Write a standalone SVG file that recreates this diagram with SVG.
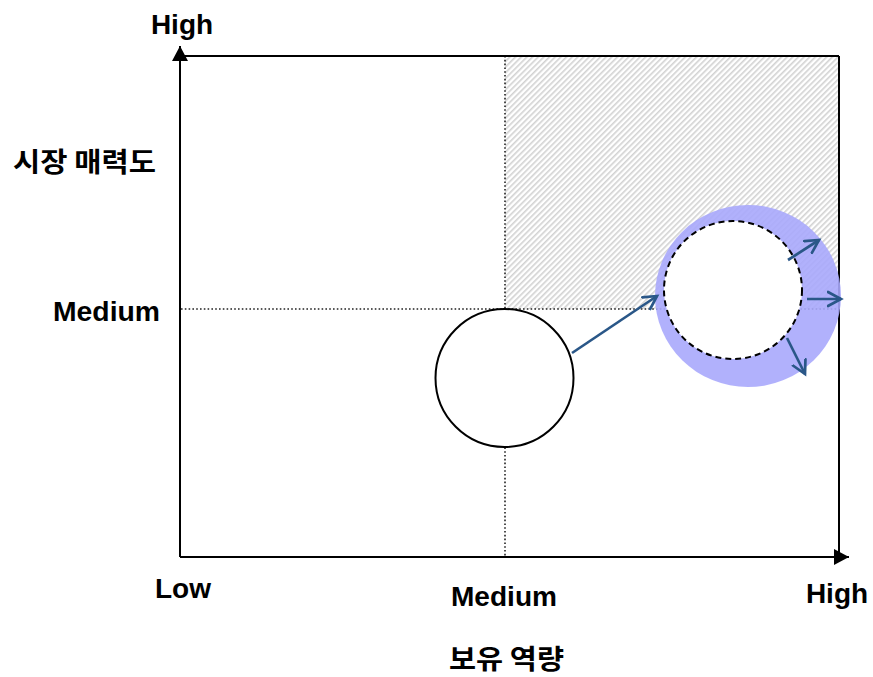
<svg xmlns="http://www.w3.org/2000/svg" width="873" height="677" viewBox="0 0 873 677">
<style>
.lbl{font-family:"Liberation Sans",Arial,sans-serif;font-weight:bold;font-size:28px;fill:#000}
.kr{font-family:"Noto Sans CJK KR","Liberation Sans",sans-serif;font-weight:bold;font-size:27px;fill:#000}
.axis{stroke:#000;stroke-width:2;fill:none}
.dot{stroke:#222;stroke-width:1.6;stroke-dasharray:1.6 2.2;fill:none}
.mv{stroke:#2a5788;stroke-width:2.7;fill:none}
</style>
<defs>
<pattern id="hatch" patternUnits="userSpaceOnUse" width="4" height="4" patternTransform="rotate(45)">
<rect width="4" height="4" fill="#fff"/>
<rect x="0" y="0" width="1.6" height="4" fill="#d2d2d2"/>
</pattern>
<marker id="solid" markerWidth="16" markerHeight="18" refX="15" refY="8" orient="auto" markerUnits="userSpaceOnUse">
<path d="M0,0 L15,8 L0,16 Z" fill="#000"/>
</marker>
<marker id="open" markerWidth="18" markerHeight="18" refX="14" refY="9" orient="auto" markerUnits="userSpaceOnUse">
<path d="M1,2 L14,9 L1,16" fill="none" stroke="#2a5788" stroke-width="2.7" stroke-linecap="round"/>
</marker>
</defs>
<g id="quadrant">
<rect x="505" y="56" width="334" height="253" fill="url(#hatch)"/>
</g>
<g id="grid">
<line class="dot" x1="505" y1="56" x2="505" y2="557"/>
<line class="dot" x1="181" y1="309" x2="839" y2="309"/>
</g>
<g id="frame">
<line class="axis" x1="180" y1="56" x2="839" y2="56"/>
<line class="axis" x1="839" y1="56" x2="839" y2="557"/>
<line class="axis" x1="180" y1="557" x2="180" y2="46" marker-end="url(#solid)"/>
<line class="axis" x1="180" y1="557" x2="849" y2="557" marker-end="url(#solid)"/>
</g>
<g id="target">
<ellipse cx="748" cy="296" rx="93" ry="91" fill="#a8a8fc" fill-opacity="0.9"/>
<circle cx="733" cy="290" r="69" fill="#fff" stroke="#000" stroke-width="2" stroke-dasharray="6 4"/>
</g>
<g id="current">
<circle cx="504.5" cy="378" r="69" fill="#fff" stroke="#000" stroke-width="2"/>
</g>
<g id="connectors">
<line class="mv" x1="572" y1="353" x2="657" y2="296" marker-end="url(#open)"/>
<line class="mv" x1="788" y1="260" x2="819" y2="240" marker-end="url(#open)"/>
<line class="mv" x1="807" y1="299" x2="841" y2="299" marker-end="url(#open)"/>
<line class="mv" x1="787" y1="338" x2="805" y2="374" marker-end="url(#open)"/>
</g>
<g id="labels">
<text class="lbl" x="182" y="34" text-anchor="middle">High</text>
<text class="kr" x="13" y="172" textLength="143" lengthAdjust="spacingAndGlyphs">시장 매력도</text>
<text class="lbl" x="160" y="321" text-anchor="end" textLength="107" lengthAdjust="spacingAndGlyphs">Medium</text>
<text class="lbl" x="155" y="598">Low</text>
<text class="lbl" x="451" y="606" textLength="106" lengthAdjust="spacingAndGlyphs">Medium</text>
<text class="lbl" x="837" y="603" text-anchor="middle">High</text>
<text class="kr" x="449" y="669" textLength="115" lengthAdjust="spacingAndGlyphs">보유 역량</text>
</g>
</svg>
